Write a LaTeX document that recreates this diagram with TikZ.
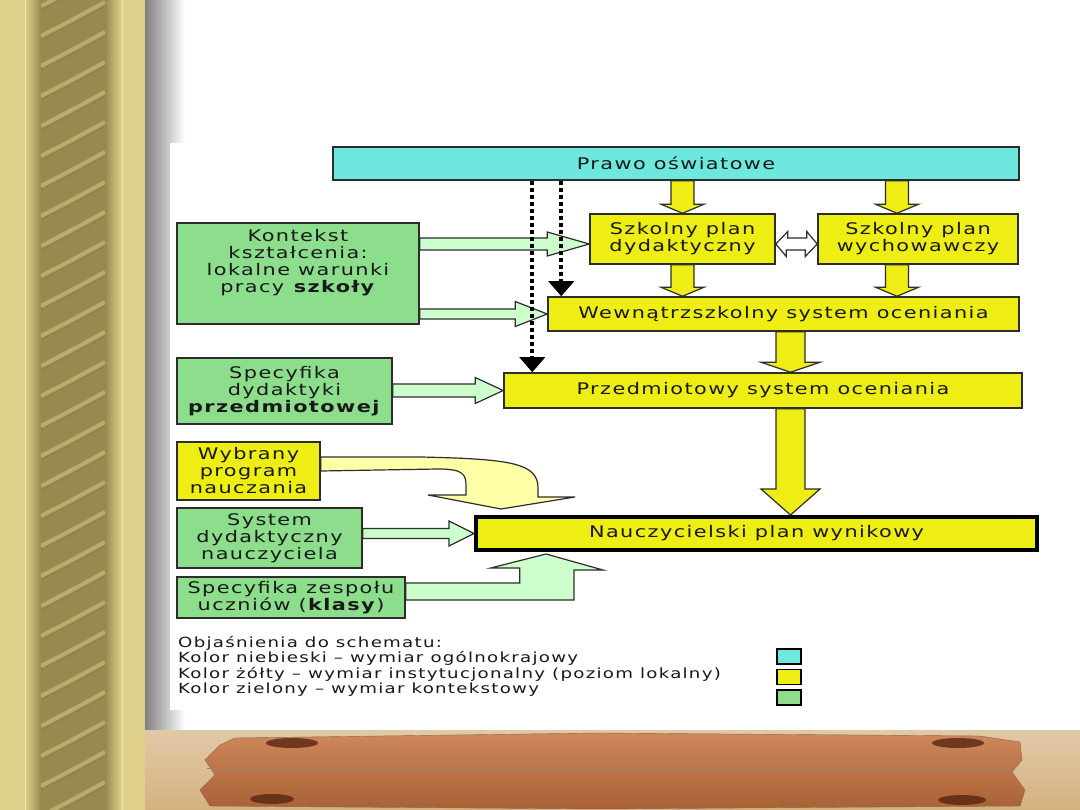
\documentclass[tikz,border=0pt]{standalone}
\usepackage{fontspec}
\usepackage{tikz}
\usetikzlibrary{
  arrows.meta,
  calc
}
\newfontfamily\diafont{DejaVu Sans}[FakeStretch=1.3,LetterSpace=9]
\definecolor{lawcyan}{RGB}{110,232,222}
\definecolor{instyellow}{RGB}{238,238,20}
\definecolor{ctxgreen}{RGB}{140,222,140}
\definecolor{flowgreen}{RGB}{204,255,204}
\definecolor{flowyellow}{RGB}{255,255,168}
\definecolor{edgegray}{RGB}{45,45,45}
\definecolor{inkblack}{RGB}{25,25,25}
\definecolor{goldlight}{RGB}{222,208,138}
\definecolor{goldmid}{RGB}{190,176,106}
\definecolor{golddark}{RGB}{150,138,80}
\definecolor{woodtan}{RGB}{212,178,128}
\definecolor{woodorange}{RGB}{198,114,62}
\definecolor{woodknot}{RGB}{88,38,18}
\tikzset{
  basebox/.style={draw=edgegray,line width=1.5pt,inner sep=1.5pt,align=center,
    text=inkblack,font=\diafont\fontsize{16}{17}\selectfont},
  nationalbox/.style={basebox,fill=lawcyan},
  localbox/.style={basebox,fill=instyellow},
  contextbox/.style={basebox,fill=ctxgreen},
  resultbox/.style={localbox,draw=black,line width=4pt},
  yblock/.style={draw=edgegray,line width=1.2pt,fill=instyellow},
  gblock/.style={draw=edgegray,line width=1.2pt,fill=flowgreen},
  cblock/.style={draw=edgegray,line width=1.2pt,fill=flowyellow},
  swapblock/.style={draw=edgegray,line width=1.2pt,fill=white},
  dotflow/.style={-{Triangle[width=25pt,length=15pt]},line width=4pt,
    dash pattern=on 4pt off 3pt,draw=black},
  legtext/.style={anchor=north west,align=left,inner sep=0pt,text=inkblack,
    font=\diafont\fontsize{14}{15.5}\selectfont},
  legsq/.style={draw=black,line width=1.5pt,minimum width=24pt,
    minimum height=15pt,inner sep=0pt},
  ropeline/.style={line width=4pt,draw=goldlight!80!goldmid},
  ropeshade/.style={line width=2pt,draw=golddark!90!black},
  goldline/.style={line width=1pt,draw=goldlight!60!white}
}
% block arrow: style, from, to, half shaft, half head, head length
\newcommand{\BArrow}[6]{%
  \coordinate (ba-a) at (#2);
  \coordinate (ba-b) at (#3);
  \coordinate (ba-h) at ($(ba-b)!#6!(ba-a)$);
  \draw[#1] ($(ba-a)!#4!90:(ba-b)$) -- ($(ba-h)!#4!90:(ba-b)$)
    -- ($(ba-h)!#5!90:(ba-b)$) -- (ba-b) -- ($(ba-h)!#5!-90:(ba-b)$)
    -- ($(ba-h)!#4!-90:(ba-b)$) -- ($(ba-a)!#4!-90:(ba-b)$) -- cycle;
}

\begin{document}
\begin{tikzpicture}[x=1pt,y=-1pt]
  \useasboundingbox (0,0) rectangle (1080,810);
  % frame
  \fill[white] (145,0) rectangle (1080,730);
  \fill[goldlight] (0,0) rectangle (145,810);
  \shade[left color=goldlight,right color=golddark] (25,0) rectangle (41,810);
  \shade[left color=golddark,middle color=goldmid,right color=golddark]
    (41,0) rectangle (105,810);
  \shade[left color=golddark,right color=goldlight] (105,0) rectangle (121,810);
  \begin{scope}
    \clip (41,0) rectangle (105,810);
    \foreach \k in {-1,...,27} {
      \draw[ropeshade,opacity=0.3] (41,\k*30+40) .. controls (72,\k*30+24) .. (105,\k*30+6);
      \draw[ropeline,opacity=0.55] (41,\k*30+36) .. controls (72,\k*30+20) .. (105,\k*30+2);
    }
  \end{scope}
  \draw[goldline] (25,0) -- (25,810) (122,0) -- (122,810);
  \shade[left color=black!50,right color=white] (145,0) rectangle (185,730);
  \fill[white] (170,143) rectangle (1080,710);
  % plank
  \shade[top color=woodtan!70!white,bottom color=woodtan] (145,730) rectangle (1080,810);
  \shade[top color=woodorange!85!white,bottom color=woodorange!85!black,
    draw=woodknot!70] (235,738) -- (600,733) -- (980,736) -- (1020,742)
    -- (1022,760) -- (1012,772) -- (1025,790) -- (1020,806) -- (600,809)
    -- (210,806) -- (200,790) -- (215,775) -- (205,760) -- (220,745) -- cycle;
  \draw[woodknot!60,line width=1pt] (207,768) -- (1015,768);
  \fill[woodknot,opacity=0.8] (292,743) ellipse [x radius=26pt,y radius=5pt];
  \fill[woodknot,opacity=0.8] (958,743) ellipse [x radius=26pt,y radius=5pt];
  \fill[woodknot,opacity=0.8] (272,799) ellipse [x radius=22pt,y radius=5pt];
  \fill[woodknot,opacity=0.8] (962,800) ellipse [x radius=24pt,y radius=5pt];

  \node[nationalbox,minimum width=686pt,minimum height=33pt] (prawo)
    at (676,163.5) {Prawo oświatowe};
  \node[localbox,minimum width=185pt,minimum height=50pt] (spd)
    at (682.5,239) {Szkolny plan\\dydaktyczny};
  \node[localbox,minimum width=200pt,minimum height=50pt] (spw)
    at (918,239) {Szkolny plan\\wychowawczy};
  \node[localbox,minimum width=471pt,minimum height=34pt] (wso)
    at (783.5,314) {Wewnątrzszkolny system oceniania};
  \node[localbox,minimum width=518pt,minimum height=35pt] (pso)
    at (763,390.5) {Przedmiotowy system oceniania};
  \node[resultbox,minimum width=561pt,minimum height=33pt] (nau)
    at (756.5,533.5) {Nauczycielski plan wynikowy};
  \node[contextbox,minimum width=242pt,minimum height=101pt,text depth=25pt] (kon)
    at (298,273.5) {Kontekst\\kształcenia:\\lokalne warunki\\pracy \textbf{szkoły}};
  \node[contextbox,minimum width=215pt,minimum height=66pt] (sdp)
    at (284.5,391) {Specyfika\\dydaktyki\\\textbf{przedmiotowej}};
  \node[localbox,minimum width=143pt,minimum height=58pt] (wpn)
    at (248.5,471) {Wybrany\\program\\nauczania};
  \node[contextbox,minimum width=185pt,minimum height=60pt] (sdn)
    at (269.5,538) {System\\dydaktyczny\\nauczyciela};
  \node[contextbox,minimum width=228pt,minimum height=41pt] (szu)
    at (291,597.5) {Specyfika zespołu\\uczniów (\textbf{klasy})};

  \draw[swapblock] ([yshift=-5pt]spd.east) -- ++(12,-12.5) -- ++(0,6.5) -- ++(19,0)
    -- ++(0,-6.5) -- ([yshift=-5pt]spw.west) -- ++(-12,12.5) -- ++(0,-6.5)
    -- ++(-19,0) -- ++(0,6.5) -- cycle;

  \coordinate (cw) at ([xshift=-21pt]spw.north);
  \coordinate (cm) at ([xshift=7pt]wso.south);
  \BArrow{yblock}{prawo.south -| spd.north}{spd.north}{11.5pt}{21.5pt}{9pt}
  \BArrow{yblock}{prawo.south -| cw}{cw}{11.5pt}{21.5pt}{9pt}
  \BArrow{yblock}{spd.south}{spd.south |- wso.north}{11.5pt}{21.5pt}{9pt}
  \BArrow{yblock}{cw |- spw.south}{cw |- wso.north}{11.5pt}{21.5pt}{9pt}
  \BArrow{yblock}{cm}{cm |- pso.north}{14.5pt}{29.5pt}{10pt}
  \BArrow{yblock}{cm |- pso.south}{cm |- nau.north}{14.5pt}{29.5pt}{26pt}

  \coordinate (k1) at ([yshift=29.5pt]kon.east);
  \BArrow{gblock}{k1}{k1 -| spd.west}{6pt}{12pt}{42pt}
  \BArrow{gblock}{kon.east |- wso.west}{wso.west}{5pt}{12.5pt}{32pt}
  \BArrow{gblock}{sdp.east |- pso.west}{pso.west}{6.5pt}{13pt}{28pt}
  \BArrow{gblock}{sdn.east |- nau.west}{nau.west}{5pt}{12.5pt}{25pt}
  \draw[gblock] ([yshift=-2.5pt]szu.east) -- ++(0,-17) -- ++(114,0) -- ++(0,-15)
    -- ++(-29,0) -- ([xshift=72pt,yshift=-2pt]nau.south west) -- ++(57,16)
    -- ++(-29,0) |- ([yshift=-2.5pt]szu.east) -- cycle;
  \draw[cblock] (wpn.east) -- ++(0,-14) -- ++(100,0)
    .. controls +(90,2) and +(0,-25) .. (538,488) -- ++(0,9) -- ++(37,0)
    -- ([shift={(27,-6)}]nau.north west) -- ++(-73,-14) -- ++(38,0) -- ++(0,-9)
    .. controls +(0,-12) and +(25,0) .. ++(-28,-17) -- cycle;

  \coordinate (d1) at ([xshift=29pt]pso.north west);
  \coordinate (d2) at ([xshift=14pt]wso.north west);
  \draw[dotflow] (prawo.south -| d1) -- (d1);
  \draw[dotflow] (prawo.south -| d2) -- (d2);

  \node[legtext] (expl) at (178,636) {Objaśnienia do schematu:\\
    Kolor niebieski – wymiar ogólnokrajowy\\
    Kolor żółty – wymiar instytucjonalny (poziom lokalny)\\
    Kolor zielony – wymiar kontekstowy};
  \node[legsq,fill=lawcyan] (keyblue) at (789,656.5) {};
  \node[legsq,fill=instyellow] (keyyellow) at (789,677) {};
  \node[legsq,fill=ctxgreen] (keygreen) at (789,697.5) {};
\end{tikzpicture}
\end{document}
